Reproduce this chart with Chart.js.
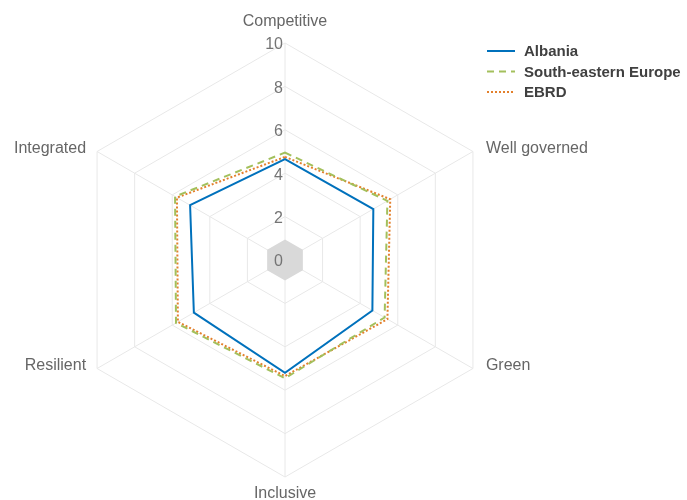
<!DOCTYPE html>
<html>
<head>
<meta charset="utf-8">
<script src="https://cdn.jsdelivr.net/npm/chart.js@4"></script>
<style>
  html, body { margin: 0; padding: 0; background: #fff; overflow: hidden; }
  #wrap { width: 687px; height: 500px; position: relative; }
</style>
</head>
<body>
<div id="wrap"><canvas id="radar"></canvas></div>
<script>
const AXES = ['Competitive', 'Well governed', 'Green', 'Inclusive', 'Resilient', 'Integrated'];
const ALBANIA = [4.65, 4.7, 4.65, 5.2, 4.85, 5.05];
const SEE = [4.95, 5.45, 5.3, 5.45, 5.8, 5.85];
const EBRD = [4.75, 5.6, 5.45, 5.35, 5.7, 5.75];
const CORE = [0.95, 0.95, 0.95, 0.95, 0.95, 0.95];
const TICKS = [0, 2, 4, 6, 8, 10];

const FONT = '"Liberation Sans", Arial, sans-serif';

const SERIES = [
  { label: 'Albania', data: ALBANIA, color: '#0071bc', dash: [] },
  { label: 'South-eastern Europe', data: SEE, color: '#a3c05c', dash: [7, 5] },
  { label: 'EBRD', data: EBRD, color: '#e3802c', dash: [2, 2] },
];

// axis names, value labels and legend are drawn by hand around the radial scale
const overlay = {
  id: 'overlay',
  afterDatasetsDraw(chart) {
    const { ctx } = chart;
    const r = chart.scales.r;
    ctx.save();

    // value labels, right-aligned against the vertical spoke
    ctx.font = '16px ' + FONT;
    ctx.fillStyle = '#747474';
    ctx.textAlign = 'right';
    ctx.textBaseline = 'middle';
    TICKS.forEach(v => {
      const d = r.getDistanceFromCenterForValue(v);
      ctx.fillText(String(v), r.xCenter - 2, r.yCenter - d + 2);
    });

    // axis names
    ctx.fillStyle = '#666';
    AXES.forEach((name, i) => {
      const p = r.getPointPosition(i, r.drawingArea);
      let x = p.x, y = p.y + 1;
      if (i === 0) { ctx.textAlign = 'center'; y -= 22; }
      else if (i === 3) { ctx.textAlign = 'center'; y += 16; }
      else if (p.x > r.xCenter) { ctx.textAlign = 'left'; x += 13; y -= 4; }
      else { ctx.textAlign = 'right'; x -= 11; y -= 4; }
      ctx.fillText(name, x, y);
    });

    // legend
    ctx.font = 'bold 15px ' + FONT;
    ctx.textAlign = 'left';
    SERIES.forEach((s, i) => {
      const y = 51 + i * 20.5;
      ctx.strokeStyle = s.color;
      ctx.lineWidth = 2;
      ctx.setLineDash(s.dash);
      ctx.beginPath();
      ctx.moveTo(487, y);
      ctx.lineTo(515, y);
      ctx.stroke();
      ctx.fillStyle = '#404040';
      ctx.fillText(s.label, 524, y + 1);
    });
    ctx.restore();
  }
};

new Chart(document.getElementById('radar'), {
  type: 'radar',
  data: {
    labels: AXES,
    datasets: [
      ...SERIES.map(s => ({
        label: s.label,
        data: s.data,
        borderColor: s.color,
        borderWidth: 2,
        borderDash: s.dash,
        backgroundColor: 'transparent',
        fill: false,
        pointRadius: 0,
        tension: 0,
      })),
      {
        label: 'core',
        data: CORE,
        borderWidth: 0,
        backgroundColor: '#d9d9d9',
        fill: 'origin',
        pointRadius: 0,
      },
    ],
  },
  options: {
    responsive: true,
    maintainAspectRatio: false,
    animation: false,
    layout: { padding: { left: 0, right: 117, top: 43, bottom: 23 } },
    plugins: { legend: { display: false }, tooltip: { enabled: false } },
    scales: {
      r: {
        min: 0,
        max: 10,
        ticks: { stepSize: 2, display: false },
        grid: { color: '#e8e8e8', lineWidth: 1 },
        angleLines: { color: '#e8e8e8', lineWidth: 1 },
        pointLabels: { display: false },
      },
    },
  },
  plugins: [overlay],
});
</script>
</body>
</html>
